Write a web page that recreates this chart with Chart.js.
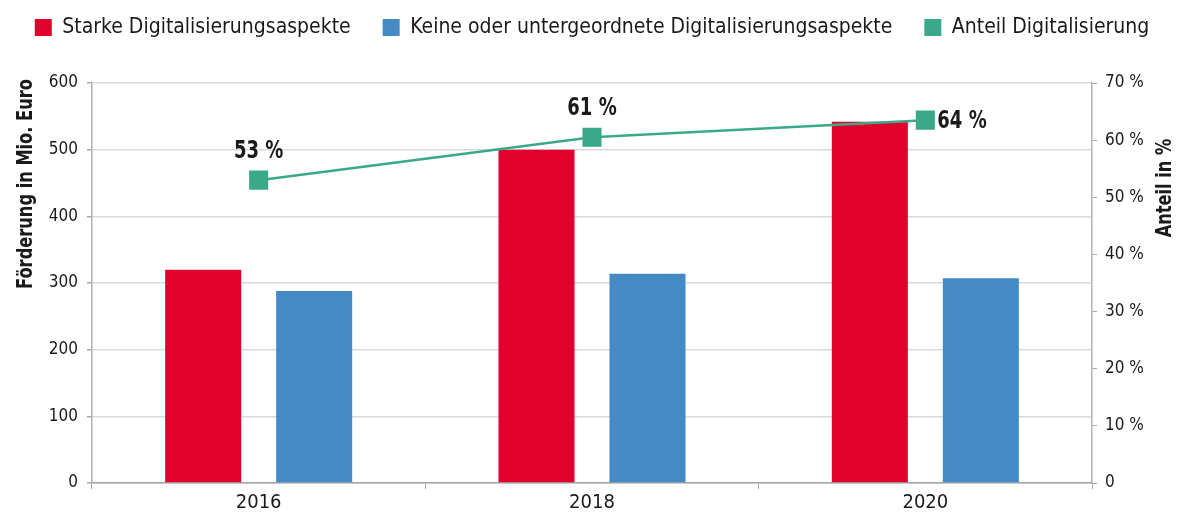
<!DOCTYPE html>
<html>
<head>
<meta charset="utf-8">
<script src="https://cdn.jsdelivr.net/npm/chart.js@4.4.1/dist/chart.umd.min.js"></script>
<style>
html,body{margin:0;padding:0;background:#fff;}
#wrap{width:1184px;height:516px;}
</style>
</head>
<body>
<div id="wrap"><canvas id="c" width="1184" height="516"></canvas></div>
<script>
const categories = ['2016', '2018', '2020'];
const starkeDigital = [320, 500, 542];
const keineDigital = [288, 314, 307];
const anteilDigital = [53, 60.5, 63.5];
const seriesNames = ['Starke Digitalisierungsaspekte', 'Keine oder untergeordnete Digitalisierungsaspekte', 'Anteil Digitalisierung'];
const axisTitles = ['Förderung in Mio. Euro', 'Anteil in %'];
const labelPlacement = ['top', 'top', 'right'];

const FONT = "'Liberation Sans Narrow', 'DejaVu Sans Condensed', 'Roboto', sans-serif";
const RED = '#e2002c', BLUE = '#448bc5', GREEN = '#3aa98a';
const TXT = '#1a1a1a';

function condensedText(ctx, txt, x, y, rot, sx, align) {
  ctx.save();
  ctx.translate(x, y);
  ctx.rotate(rot);
  ctx.scale(sx, 1);
  ctx.textAlign = align;
  ctx.textBaseline = 'middle';
  ctx.fillText(txt, 0, 0);
  ctx.restore();
}

const overlayPlugin = {
  id: 'overlay',
  beforeLayout(chart) {
    const lg = chart.legend;
    if (lg && !lg._spacerPatched) {
      const origFit = lg.fit.bind(lg);
      lg.fit = function () { origFit(); this.height += 35; };
      lg._spacerPatched = true;
    }
  },
  afterDatasetsDraw(chart) {
    const ctx = chart.ctx;
    const meta = chart.getDatasetMeta(2);
    ctx.save();
    ctx.fillStyle = TXT;
    ctx.font = "bold 25px " + FONT;
    meta.data.forEach((pt, i) => {
      const txt = Math.round(anteilDigital[i]) + ' %';
      if (labelPlacement[i] === 'right') {
        condensedText(ctx, txt, pt.x + 12, pt.y + 1, 0, 0.8, 'left');
      } else {
        condensedText(ctx, txt, pt.x, pt.y - 29, 0, 0.8, 'center');
      }
    });
    ctx.restore();
  },
  afterDraw(chart) {
    const ctx = chart.ctx;
    ctx.save();
    ctx.fillStyle = TXT;
    ctx.font = "bold 22px " + FONT;
    condensedText(ctx, axisTitles[0], 26, 184, -Math.PI / 2, 0.82, 'center');
    condensedText(ctx, axisTitles[1], 1165, 188, -Math.PI / 2, 0.82, 'center');
    ctx.restore();
  }
};

new Chart(document.getElementById('c'), {
  data: {
    labels: categories,
    datasets: [
      { type: 'bar', label: seriesNames[0], data: starkeDigital, backgroundColor: RED, yAxisID: 'y', order: 2,
        categoryPercentage: 0.666, barPercentage: 0.685 },
      { type: 'bar', label: seriesNames[1], data: keineDigital, backgroundColor: BLUE, yAxisID: 'y', order: 2,
        categoryPercentage: 0.666, barPercentage: 0.685 },
      { type: 'line', label: seriesNames[2], data: anteilDigital, borderColor: GREEN, backgroundColor: GREEN, yAxisID: 'y1', order: 1,
        borderWidth: 2.5, pointStyle: 'rect', pointRadius: 13.5, pointHoverRadius: 13.5, pointBackgroundColor: GREEN, pointBorderWidth: 0, tension: 0 }
    ]
  },
  options: {
    responsive: false,
    animation: false,
    devicePixelRatio: 1,
    layout: { padding: { top: -15, left: 0, right: 0, bottom: 0 } },
    plugins: {
      tooltip: { enabled: false },
      legend: {
        position: 'top',
        labels: {
          font: { family: FONT, size: 21 },
          color: TXT,
          boxWidth: 17,
          boxHeight: 17,
          padding: 32,
          generateLabels(chart) {
            return chart.data.datasets.map((ds, i) => ({
              text: ds.label, fillStyle: ds.backgroundColor, strokeStyle: ds.backgroundColor,
              lineWidth: 0, hidden: false, datasetIndex: i, fontColor: TXT
            }));
          }
        }
      }
    },
    scales: {
      x: {
        offset: true,
        afterFit(s) { s.height = 33; },
        grid: { drawOnChartArea: false, drawTicks: true, tickLength: 6, color: '#a6a6a6', offset: true },
        border: { color: '#a6a6a6', width: 1.5 },
        ticks: { font: { family: FONT, size: 20 }, color: TXT, padding: 2 }
      },
      y: {
        position: 'left',
        min: 0, max: 600,
        afterFit(s) { s.width = 92; },
        ticks: { stepSize: 100, font: { family: FONT, size: 17 }, color: TXT, padding: 9 },
        grid: { color: '#d9d9d9', lineWidth: 1.5, tickLength: 5, tickColor: '#a6a6a6' },
        border: { color: '#b0b0b0', width: 1.5 }
      },
      y1: {
        position: 'right',
        min: 0, max: 70,
        afterFit(s) { s.width = 92; },
        ticks: { stepSize: 10, font: { family: FONT, size: 17 }, color: TXT, padding: 8,
          callback: v => v === 0 ? '0' : v + ' %' },
        grid: { drawOnChartArea: false, tickLength: 5, color: '#a6a6a6' },
        border: { color: '#b0b0b0', width: 1.5 }
      }
    }
  },
  plugins: [overlayPlugin]
});
</script>
</body>
</html>
